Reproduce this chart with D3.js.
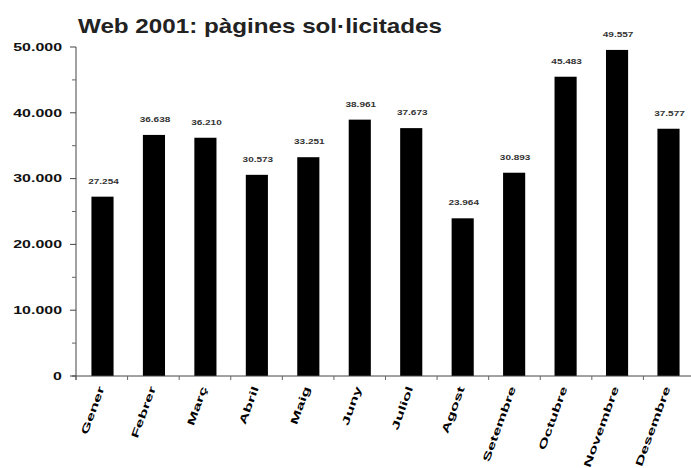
<!DOCTYPE html>
<html>
<head>
<meta charset="utf-8">
<script src="https://cdn.jsdelivr.net/npm/d3@7"></script>
<style>
  body { margin: 0; background: #fff; }
  svg { display: block; }
  .title { font: bold 21px "Liberation Sans", Arial, sans-serif; fill: #222; }
  .ytick text { font: bold 11px "Liberation Sans", Arial, sans-serif; fill: #111; }
  .val { font: bold 8px "Liberation Sans", Arial, sans-serif; fill: #333; }
  .xlab { font: bold 12px "Liberation Sans", Arial, sans-serif; fill: #000; }
</style>
</head>
<body>
<svg id="chart" width="691" height="468"></svg>
<script>
const months = ['Gener', 'Febrer', 'Març', 'Abril', 'Maig', 'Juny', 'Juliol', 'Agost', 'Setembre', 'Octubre', 'Novembre', 'Desembre'];
const pages = [27254, 36638, 36210, 30573, 33251, 38961, 37673, 23964, 30893, 45483, 49557, 37577];
const yTicks = [0, 10000, 20000, 30000, 40000, 50000];
const yMinorTicks = [5000, 15000, 25000, 35000, 45000];

const svg = d3.select('#chart');
const margin = { left: 76, top: 47, bottom: 92 };
const plotRight = 695;
const plotBottom = 468 - margin.bottom;

const fmt = n => d3.format(',')(n).replace(/,/g, '.');

const x = d3.scaleBand()
  .domain(months)
  .range([margin.left, plotRight])
  .paddingInner(0.57)
  .paddingOuter(0.3);

const y = d3.scaleLinear()
  .domain([0, 50000])
  .range([plotBottom, margin.top]);

svg.append('text')
  .attr('class', 'title')
  .attr('x', 78)
  .attr('y', 33)
  .attr('textLength', 364)
  .attr('lengthAdjust', 'spacingAndGlyphs')
  .text('Web 2001: pàgines sol·licitades');

// bars
svg.selectAll('.bar')
  .data(pages)
  .join('rect')
  .attr('class', 'bar')
  .attr('x', (d, i) => x(months[i]))
  .attr('y', d => y(d))
  .attr('width', x.bandwidth())
  .attr('height', d => y(0) - y(d))
  .attr('fill', '#000');

// value labels
svg.selectAll('.val')
  .data(pages)
  .join('text')
  .attr('class', 'val')
  .attr('text-anchor', 'middle')
  .attr('transform', (d, i) => `translate(${x(months[i]) + x.bandwidth() / 2 + 1},${y(d) - 13}) scale(1.25,1)`)
  .text(d => fmt(d));

// y axis
const yAxis = svg.append('g').attr('transform', `translate(${margin.left},0)`);
yAxis.append('line')
  .attr('x1', 0).attr('x2', 0)
  .attr('y1', y(50000)).attr('y2', y(0) + 4)
  .attr('stroke', '#444');
yAxis.selectAll('.ytick')
  .data(yTicks)
  .join('g')
  .attr('class', 'ytick')
  .attr('transform', d => `translate(0,${y(d)})`)
  .call(g => g.append('line').attr('x1', -6).attr('x2', 0).attr('stroke', '#444'))
  .call(g => g.append('text')
    .attr('transform', 'translate(-14,0) scale(1.45,1)')
    .attr('dy', '0.35em')
    .attr('text-anchor', 'end')
    .text(d => fmt(d)));
yAxis.selectAll('.yminor')
  .data(yMinorTicks)
  .join('line')
  .attr('class', 'yminor')
  .attr('x1', -4).attr('x2', 0)
  .attr('y1', d => y(d)).attr('y2', d => y(d))
  .attr('stroke', '#666');

// x axis
const xAxis = svg.append('g');
xAxis.append('line')
  .attr('x1', margin.left - 4).attr('x2', plotRight)
  .attr('y1', plotBottom).attr('y2', plotBottom)
  .attr('stroke', '#444');
xAxis.selectAll('.xtick')
  .data(d3.range(months.length + 1))
  .join('line')
  .attr('class', 'xtick')
  .attr('x1', i => margin.left + i * (plotRight - margin.left) / months.length)
  .attr('x2', i => margin.left + i * (plotRight - margin.left) / months.length)
  .attr('y1', plotBottom).attr('y2', plotBottom + 4)
  .attr('stroke', '#666');

xAxis.selectAll('.xlab')
  .data(months)
  .join('text')
  .attr('class', 'xlab')
  .attr('text-anchor', 'end')
  .attr('transform', d => `translate(${x(d) + x.bandwidth() / 2 + 2},${plotBottom + 12}) rotate(-70) scale(1.45,0.85)`)
  .text(d => d);
</script>
</body>
</html>
